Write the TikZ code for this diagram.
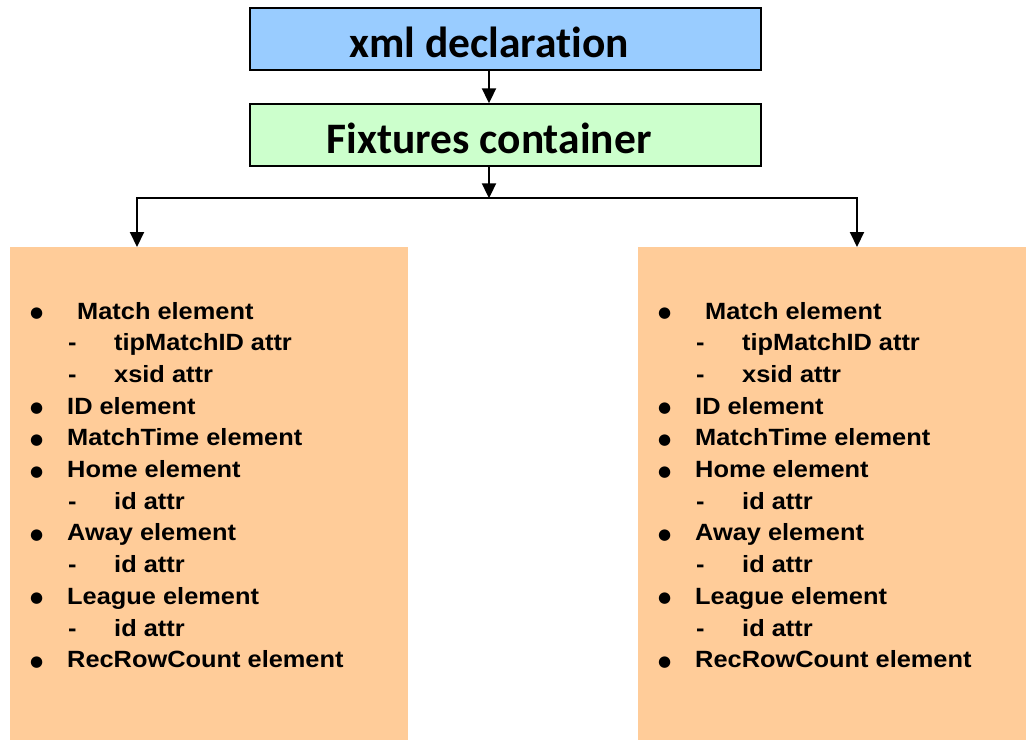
\documentclass[tikz,border=0pt]{standalone}
\usepackage{fontspec}
\setmainfont{Liberation Sans}
\newfontfamily\titlefont{Carlito}[Ligatures=NoCommon]
\newfontfamily\listfont{Liberation Sans}[FakeStretch=1.08]
\newfontfamily\markfont{DejaVu Sans}
\usetikzlibrary{arrows.meta}
\definecolor{hdrblue}{HTML}{99CCFF}
\definecolor{hdrgreen}{HTML}{CCFFCC}
\definecolor{panelorange}{HTML}{FFCC99}
\begin{document}
\begin{tikzpicture}[x=1pt,y=-1pt,
  topbox/.style={draw=black, line width=2pt, minimum width=511pt, minimum height=62pt, inner sep=0pt},
  titletxt/.style={font=\titlefont\bfseries\fontsize{43.5}{50}\selectfont, inner sep=0pt, anchor=base},
  panelbox/.style={fill=panelorange, inner sep=0pt, anchor=north west},
  arr/.style={line width=2pt, -{Triangle[width=14pt,length=15pt]}},
  listtxt/.style={font=\listfont\bfseries\fontsize{23.5}{28}\selectfont, inner sep=0pt, anchor=base west},
  listmark/.style={font=\markfont\fontsize{15}{18}\selectfont, inner sep=0pt, anchor=base west}
]
\useasboundingbox[fill=white] (0,0) rectangle (1026,740);

% header boxes
\node[topbox, fill=hdrblue] (xml) at (505.5,39) {};
\node[topbox, fill=hdrgreen] (fix) at (505.5,135.3) {};
\node[titletxt] (xmltxt) at (489,57.3) {xml declaration};
\node[titletxt] (fixtxt) at (489,153.3) {Fixtures container};

% panels
\node[panelbox, minimum width=398pt, minimum height=493pt] (left) at (10,247) {};
\node[panelbox, minimum width=388pt, minimum height=493pt] (right) at (638,247) {};

% connectors
\coordinate (jn) at (489,198.3);
\coordinate (la) at (137,247);
\coordinate (ra) at (857,247);
\draw[arr] (xml.south -| jn) -- (fix.north -| jn);
\draw[arr] (fix.south -| jn) -- (jn);
\draw[arr] (jn) -| (la);
\draw[arr] (jn) -| (ra);

% lists
\foreach \pre/\off in {L/0, R/628}{
  \foreach \k/\mx/\tx/\t [count=\i] in {
      b/30/77/Match element,
      d/68/114/tipMatchID attr,
      d/68/114/xsid attr,
      b/30/67/ID element,
      b/30/67/MatchTime element,
      b/30/67/Home element,
      d/68/114/id attr,
      b/30/67/Away element,
      d/68/114/id attr,
      b/30/67/League element,
      d/68/114/id attr,
      b/30/67/RecRowCount element}{
    \if b\k
      \node[listmark] (\pre m\i) at (\off+\mx, 317.5+\i*31.7-31.7) {●};
    \else
      \node[listtxt] (\pre m\i) at (\off+\mx, 319+\i*31.7-31.7) {-};
    \fi
    \node[listtxt] (\pre t\i) at (\off+\tx, 319+\i*31.7-31.7) {\t};
  }
}
\end{tikzpicture}
\end{document}
